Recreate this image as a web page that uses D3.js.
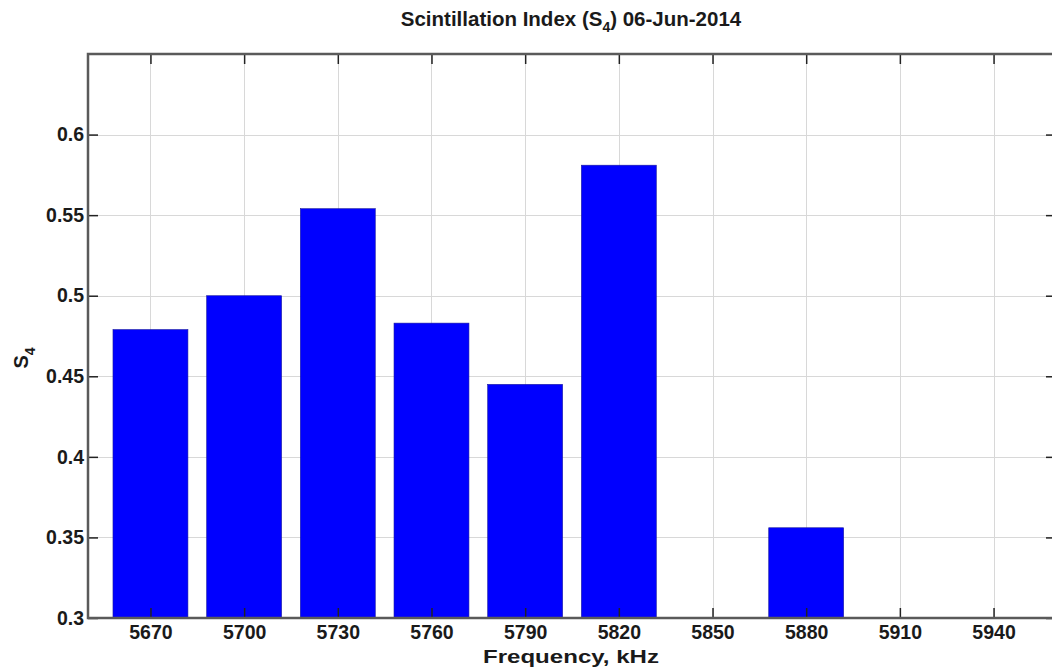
<!DOCTYPE html>
<html>
<head>
<meta charset="utf-8">
<script src="https://cdn.jsdelivr.net/npm/d3@7"></script>
<style>
  html, body { margin: 0; padding: 0; background: #fff; }
  svg { display: block; font-family: "Liberation Sans", Arial, Helvetica, sans-serif; }
  .tick text { font-family: "Liberation Sans", Arial, Helvetica, sans-serif; font-weight: bold; font-size: 19.5px; fill: #1a1a1a; }
</style>
</head>
<body>
<svg id="chart" width="1052" height="670"></svg>
<script>
// Channel frequencies (kHz) and S4 scintillation index per channel
const frequencies = [5670, 5700, 5730, 5760, 5790, 5820, 5850, 5880, 5910, 5940];
const s4Values    = [0.479, 0.500, 0.554, 0.483, 0.445, 0.581, null, 0.356, null, null];
const yTicks      = [0.3, 0.35, 0.4, 0.45, 0.5, 0.55, 0.6];
const yTickLabels = ["0.3", "0.35", "0.4", "0.45", "0.5", "0.55", "0.6"];

const W = 1052, H = 670;
const margin = { left: 88, right: -4, top: 54, bottom: 52 };
const x0 = margin.left, x1 = W - margin.right;
const y0 = H - margin.bottom, y1 = margin.top;

const svg = d3.select("#chart");

const x = d3.scaleLinear().domain([5650, 5960]).range([x0, x1]);
const y = d3.scaleLinear().domain([0.3, 0.65]).range([y0, y1]);
const barW = (x(5700) - x(5670)) * 0.8;

// Grid
const grid = svg.append("g").attr("stroke", "#d8d8d8").attr("stroke-width", 1);
grid.selectAll("line.v").data(frequencies).join("line")
  .attr("x1", d => Math.round(x(d)) + 0.5).attr("x2", d => Math.round(x(d)) + 0.5)
  .attr("y1", y1).attr("y2", y0);
grid.selectAll("line.h").data(yTicks.slice(1)).join("line")
  .attr("x1", x0).attr("x2", x1)
  .attr("y1", d => Math.round(y(d)) + 0.5).attr("y2", d => Math.round(y(d)) + 0.5);

// Bars
svg.append("clipPath").attr("id", "plotClip")
  .append("rect").attr("x", x0).attr("y", y1).attr("width", x1 - x0).attr("height", y0 - y1);
const bars = frequencies.map((f, i) => ({ f, v: s4Values[i] })).filter(d => d.v !== null);
svg.append("g").attr("clip-path", "url(#plotClip)")
  .selectAll("rect").data(bars).join("rect")
  .attr("x", d => x(d.f) - barW / 2)
  .attr("width", barW)
  .attr("y", d => y(d.v))
  .attr("height", d => y0 - y(d.v))
  .attr("fill", "#0000ff")
  .attr("stroke", "#1a1aa0")
  .attr("stroke-width", 0.6);

// Axes (ticks point inward on all four sides of the box)
const tickLen = 10;
const styleTicks = g => {
  g.select(".domain").remove();
  g.selectAll(".tick line").attr("stroke", "#222").attr("stroke-width", 1.5);
};

svg.append("g").attr("transform", `translate(0,${y0})`)
  .call(d3.axisBottom(x).tickValues(frequencies).tickFormat(d3.format("d"))
    .tickSizeInner(-tickLen).tickSizeOuter(0).tickPadding(7))
  .call(styleTicks);

svg.append("g").attr("transform", `translate(0,${y1})`)
  .call(d3.axisTop(x).tickValues(frequencies).tickFormat("")
    .tickSizeInner(-tickLen).tickSizeOuter(0))
  .call(styleTicks);

svg.append("g").attr("transform", `translate(${x0},0)`)
  .call(d3.axisLeft(y).tickValues(yTicks).tickFormat((d, i) => yTickLabels[i])
    .tickSizeInner(-tickLen).tickSizeOuter(0).tickPadding(4))
  .call(styleTicks);

svg.append("g").attr("transform", `translate(${x1},0)`)
  .call(d3.axisRight(y).tickValues(yTicks).tickFormat("")
    .tickSizeInner(-tickLen).tickSizeOuter(0))
  .call(styleTicks);

// Axes box
svg.append("rect").attr("x", x0).attr("y", y1).attr("width", x1 - x0).attr("height", y0 - y1)
  .attr("fill", "none").attr("stroke", "#5a5a5a").attr("stroke-width", 2.5);

// Title
const title = svg.append("text").attr("x", 571).attr("y", 26)
  .attr("text-anchor", "middle").attr("font-weight", "bold").attr("font-size", 20.5).attr("fill", "#1a1a1a");
title.append("tspan").text("Scintillation Index (S");
title.append("tspan").attr("dy", 6).attr("font-size", 14).text("4");
title.append("tspan").attr("dy", -6).text(") 06-Jun-2014");

// X label (set slightly wide, like the rest of the lettering)
svg.append("text").attr("x", 571).attr("y", 663)
  .attr("text-anchor", "middle").attr("font-weight", "bold").attr("font-size", 19).attr("fill", "#1a1a1a")
  .attr("textLength", 176).attr("lengthAdjust", "spacingAndGlyphs")
  .text("Frequency, kHz");

// Y label
const yl = svg.append("text").attr("transform", "translate(28,358) rotate(-90)")
  .attr("text-anchor", "middle").attr("font-weight", "bold").attr("font-size", 20).attr("fill", "#1a1a1a");
yl.append("tspan").text("S");
yl.append("tspan").attr("dy", 7).attr("font-size", 14).text("4");
</script>
</body>
</html>
